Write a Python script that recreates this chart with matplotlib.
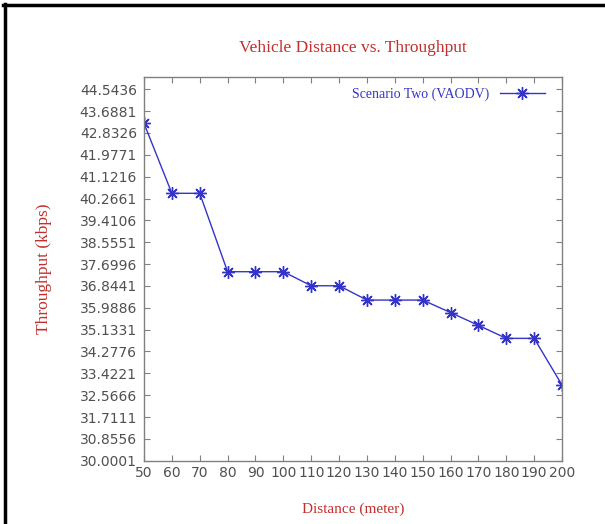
import matplotlib
matplotlib.use('Agg')
from matplotlib import pyplot as plt
from matplotlib.lines import Line2D

# data
distance = [50, 60, 70, 80, 90, 100, 110, 120, 130, 140, 150, 160, 170, 180, 190, 200]
throughput = [43.21, 40.47, 40.47, 37.40, 37.40, 37.40, 36.85, 36.85,
              36.29, 36.29, 36.29, 35.80, 35.30, 34.79, 34.79, 32.96]
ytick_vals = [30.0001 + 0.8555 * i for i in range(18)]
ytick_labels = ['%.4f' % v for v in ytick_vals]

red = '#c0302e'
blue = '#3434c8'
serif = ['Liberation Serif', 'DejaVu Serif']

fig = plt.figure(figsize=(6.05, 5.24), dpi=100)
ax = fig.add_axes([0.238, 0.1208, 0.691, 0.7328])

ax.plot(distance, throughput, c=blue, lw=1.0, marker=(8, 2, 0),
        markersize=9, markeredgewidth=1.0, label='Scenario Two (VAODV)')

ax.set_xlim(50, 200)
ax.set_ylim(30.0001, 45.035)
ax.set_xticks(distance)
ax.set_yticks(ytick_vals)
ax.set_yticklabels(ytick_labels)

for s in ax.spines.values():
    s.set_color('#808080')
    s.set_linewidth(1.0)
ax.tick_params(axis='both', direction='in', length=4, color='#808080',
               top=True, right=True, labelsize=10, labelcolor='#505050')
ax.tick_params(axis='y', pad=5)
ax.tick_params(axis='x', pad=4)

ax.set_title('Vehicle Distance vs. Throughput', fontsize=12.5, color=red,
             family=serif, pad=18)
ax.set_xlabel('Distance (meter)', fontsize=11, color=red, family=serif, labelpad=16)
ax.set_ylabel('Throughput (kbps)', fontsize=12.5, color=red, family=serif, labelpad=20)

leg = ax.legend(loc='upper right', frameon=False, markerfirst=False,
                handlelength=3.2, borderaxespad=0.4,
                bbox_to_anchor=(0.985, 1.0), prop={'family': serif, 'size': 10})
for t in leg.get_texts():
    t.set_color(blue)

# black frame on the top and left edges of the picture
fig.add_artist(Line2D([0.005, 1.0], [0.99, 0.99], color='black', lw=2.5,
                      transform=fig.transFigure))
fig.add_artist(Line2D([0.009, 0.009], [0.0, 0.992], color='black', lw=2.5,
                      transform=fig.transFigure))

fig.savefig('out.png', dpi=100)
